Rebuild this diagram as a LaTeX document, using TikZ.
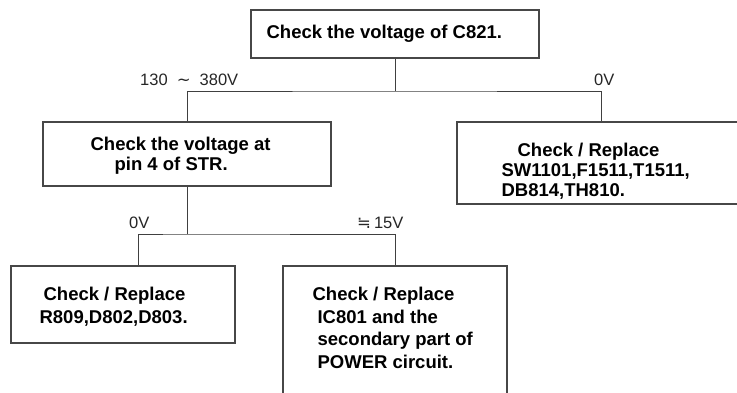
\documentclass[tikz,border=0pt]{standalone}
\usepackage{fontspec}
\setmainfont{Liberation Sans}
\newfontfamily\symfont{DejaVu Sans}
\usetikzlibrary{positioning}

\begin{document}
\begin{tikzpicture}[
  x=1pt, y=-1pt,
  box/.style={draw=black!72, line width=1.2pt, inner sep=0pt},
  txt/.style={inner sep=0pt, align=left, font=\fontsize{18.5}{20}\selectfont\bfseries},
  tall/.style={font=\fontsize{18.5}{22.7}\selectfont\bfseries},
  lbl/.style={inner sep=0pt, anchor=base west, text=black!85, font=\fontsize{16.5}{18}\selectfont},
  wire/.style={draw=black!75, line width=1pt}
]
\useasboundingbox (0,0) rectangle (737,392);

% boxes
\node[box, minimum width=288pt, minimum height=48pt] (chk) at (395,34) {};
\node[box, minimum width=288pt, minimum height=64pt] (pin) at (187,154) {};
\node[box, minimum width=288pt, minimum height=82pt] (repA) at (601,163) {};
\node[box, minimum width=224pt, minimum height=77pt] (repB) at (123,304.5) {};
\node[box, minimum width=224pt, minimum height=140pt] (repC) at (395,336) {};

% texts
\node[txt, below right=15pt and 16pt of chk.north west] (chkT) {Check the voltage of C821.};
\node[txt, below right=15.5pt and 48pt of pin.north west] (pinT) {Check the voltage at\\\hspace*{24pt}pin 4 of STR.};
\node[txt, below right=21.5pt and 45pt of repA.north west] (repAT) {\hspace*{16pt}Check / Replace\\SW1101,F1511,T1511,\\DB814,TH810.};
\node[txt, tall, below right=21.5pt and 29pt of repB.north west] (repBT) {\hspace*{4pt}Check / Replace\\R809,D802,D803.};
\node[txt, tall, below right=21.5pt and 30pt of repC.north west] (repCT) {Check / Replace\\\hspace*{5pt}IC801 and the\\\hspace*{5pt}secondary part of\\\hspace*{5pt}POWER circuit.};

% branch voltages
\node[lbl] (vHi) at (140,85) {130\hspace{4.5pt} {\symfont ∼} \hspace{4.5pt}380V};
\node[lbl] (vZa) at (594,85) {0V};
\node[lbl] (vZb) at (129,228) {0V};
\node[lbl] (vFt) at (357,228) {{\symfont ≒}\hspace{3pt}15V};

% connectors
\coordinate (busA) at (395,91);
\coordinate (busB) at (187,234);
\draw[wire] (chk.south) -- (busA);
\draw[wire] (pin.north) |- (busA) -| (repA.north);
\draw[wire] (pin.south) -- (busB);
\draw[wire] ([xshift=15pt]repB.north) |- (busB) -| (repC.north);
\end{tikzpicture}
\end{document}
